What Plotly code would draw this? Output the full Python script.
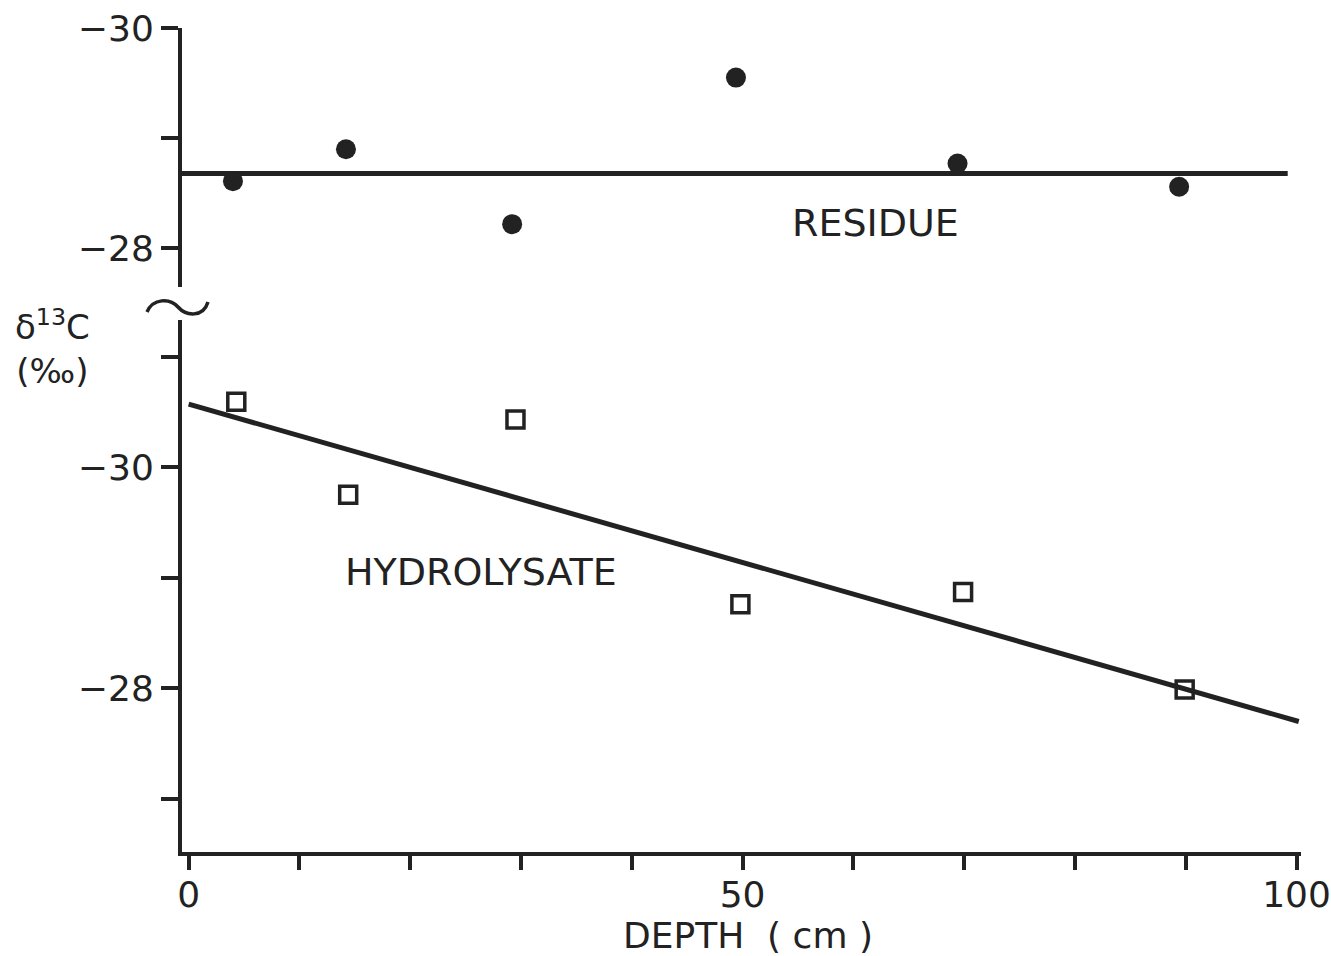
import plotly.graph_objects as go
from plotly.subplots import make_subplots

# ---- data ----
residue_depth = [4.0, 14.2, 29.2, 49.4, 69.4, 89.4]
residue_d13c = [-28.61, -28.90, -28.22, -29.55, -28.77, -28.56]
residue_fit_depth = [-0.6, 99.2]
residue_fit_d13c = [-28.68, -28.68]

hydro_depth = [4.3, 14.4, 29.5, 49.8, 69.9, 89.9]
hydro_d13c = [-30.59, -29.75, -30.43, -28.76, -28.87, -27.99]
hydro_fit_depth = [0.0, 100.2]
hydro_fit_d13c = [-30.57, -27.70]

x_tickvals = [0, 10, 20, 30, 40, 50, 60, 70, 80, 90, 100]
x_ticktext = ["0", "", "", "", "", "50", "", "", "", "", "100"]
top_tickvals = [-30, -29, -28]
top_ticktext = ["\u221230", "", "\u221228"]
bot_tickvals = [-31, -30, -29, -28, -27]
bot_ticktext = ["", "\u221230", "", "\u221228", ""]

INK = "#222222"
FONT = "DejaVu Sans"

fig = make_subplots(rows=2, cols=1, shared_xaxes=True, vertical_spacing=0.04)

fig.add_trace(go.Scatter(x=residue_fit_depth, y=residue_fit_d13c, mode="lines",
                         line=dict(color=INK, width=5), showlegend=False), row=1, col=1)
fig.add_trace(go.Scatter(x=residue_depth, y=residue_d13c, mode="markers",
                         marker=dict(symbol="circle", size=20, color=INK),
                         showlegend=False), row=1, col=1)
fig.add_trace(go.Scatter(x=hydro_fit_depth, y=hydro_fit_d13c, mode="lines",
                         line=dict(color=INK, width=5), showlegend=False,
                         cliponaxis=False), row=2, col=1)
fig.add_trace(go.Scatter(x=hydro_depth, y=hydro_d13c, mode="markers",
                         marker=dict(symbol="square-open", size=17, color=INK,
                                     line=dict(color=INK, width=3.5)),
                         showlegend=False, cliponaxis=False), row=2, col=1)

W, H = 1331, 956
L, R, T, B = 182, 30, 28, 104

fig.update_layout(
    width=W, height=H,
    margin=dict(l=L, r=R, t=T, b=B, autoexpand=False),
    paper_bgcolor="white", plot_bgcolor="white",
    font=dict(family=FONT, size=36, color=INK),
)

fig.update_xaxes(range=[-0.6, 100.4], showgrid=False, zeroline=False, automargin=False)
fig.update_xaxes(row=1, col=1, showline=False, ticks="", showticklabels=False)
fig.update_xaxes(row=2, col=1, showline=True, linecolor=INK, linewidth=4,
                 ticks="outside", ticklen=14, tickwidth=3.5, tickcolor=INK,
                 tickvals=x_tickvals, ticktext=x_ticktext, ticklabelstandoff=-6,
                 tickfont=dict(family=FONT, size=36, color=INK))

fig.update_yaxes(row=1, col=1, domain=[0.6857, 1.0], range=[-27.65, -30],
                 autorange=False, showgrid=False, zeroline=False, automargin=False,
                 showline=True, linecolor=INK, linewidth=4,
                 ticks="outside", ticklen=17, tickwidth=3.5, tickcolor=INK,
                 tickvals=top_tickvals, ticktext=top_ticktext,
                 tickfont=dict(family=FONT, size=36, color=INK))
fig.update_yaxes(row=2, col=1, domain=[0.0, 0.6456], range=[-26.52, -31.33],
                 autorange=False, showgrid=False, zeroline=False, automargin=False,
                 showline=True, linecolor=INK, linewidth=4,
                 ticks="outside", ticklen=17, tickwidth=3.5, tickcolor=INK,
                 tickvals=bot_tickvals, ticktext=bot_ticktext,
                 tickfont=dict(family=FONT, size=36, color=INK))

pw = W - L - R
ph = H - T - B
def px_x(p):
    return (p - L) / pw
def px_y(p):
    return (H - B - p) / ph

fig.add_annotation(x=62.0, y=-28.23, xref="x", yref="y", text="RESIDUE",
                   showarrow=False, font=dict(family=FONT, size=38, color=INK))
fig.add_annotation(x=26.4, y=-29.05, xref="x2", yref="y2", text="HYDROLYSATE",
                   showarrow=False, font=dict(family=FONT, size=38, color=INK))
fig.add_annotation(x=50.5, y=px_y(935), xref="x2", yref="paper",
                   xanchor="center", yanchor="middle",
                   text="DEPTH\u00a0\u00a0(\u00a0cm\u00a0)", showarrow=False,
                   font=dict(family=FONT, size=36, color=INK))
fig.add_annotation(x=px_x(52), y=px_y(347), xref="paper", yref="paper",
                   xanchor="center", yanchor="middle",
                   text="\u03b4<sup>13</sup>C<br>(\u2030)", showarrow=False,
                   font=dict(family=FONT, size=34, color=INK))

# axis break symbol (~)
def P(xp, yp):
    return f"{px_x(xp):.5f},{px_y(yp):.5f}"
path = ("M " + P(147, 312) + " C " + P(153, 298) + " " + P(170, 298) + " " + P(178, 307)
        + " C " + P(186, 316) + " " + P(203, 318) + " " + P(208, 302))
fig.add_shape(type="path", xref="paper", yref="paper", path=path,
              line=dict(color=INK, width=3.5))

fig.write_html("out.html")
